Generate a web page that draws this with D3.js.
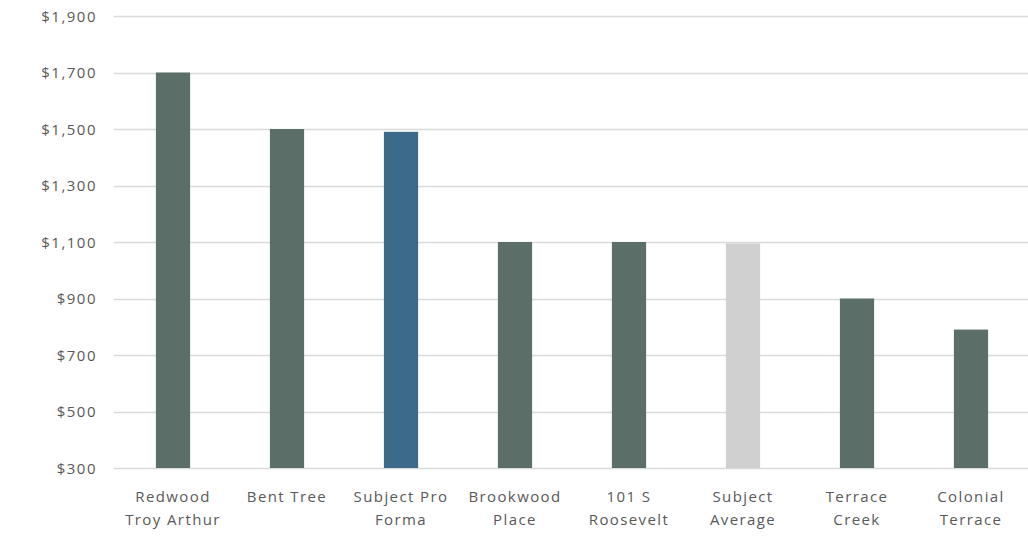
<!DOCTYPE html>
<html>
<head>
<meta charset="utf-8">
<script src="https://cdn.jsdelivr.net/npm/d3@7"></script>
<style>
  html, body { margin: 0; padding: 0; background: #fff; }
  svg text { font-family: "Open Sans", "Liberation Sans", sans-serif; fill: #595959; }
</style>
</head>
<body>
<svg id="chart" width="1028" height="538"></svg>
<script>
// Monthly rent by property
const properties = [
  ["Redwood", "Troy Arthur"],
  ["Bent Tree"],
  ["Subject Pro", "Forma"],
  ["Brookwood", "Place"],
  ["101 S", "Roosevelt"],
  ["Subject", "Average"],
  ["Terrace", "Creek"],
  ["Colonial", "Terrace"]
];
const rents = [1700, 1500, 1490, 1100, 1100, 1095, 900, 790];
const barKinds = ["comp", "comp", "proforma", "comp", "comp", "average", "comp", "comp"];
const yTicks = [300, 500, 700, 900, 1100, 1300, 1500, 1700, 1900];

const colors = { comp: "#5b6e68", proforma: "#3b6a8a", average: "#d0d0d0" };

const svg = d3.select("#chart");
const margin = { top: 16, right: 0, bottom: 70, left: 116 };
const width = 1028, height = 538;

const x = d3.scaleBand()
  .domain(properties.map((d, i) => i))
  .range([margin.left, margin.left + 912])
  .paddingInner(0.7)
  .paddingOuter(0.35);

const y = d3.scaleLinear()
  .domain([300, 1900])
  .range([468, margin.top]);

// horizontal gridlines
svg.append("g")
  .selectAll("line")
  .data(yTicks)
  .join("line")
  .attr("x1", 114)
  .attr("x2", width)
  .attr("y1", d => Math.round(y(d)) + 0.5)
  .attr("y2", d => Math.round(y(d)) + 0.5)
  .attr("stroke", "#dadada")
  .attr("stroke-width", 1.5);

// y axis labels
const yAxis = d3.axisLeft(y)
  .tickValues(yTicks)
  .tickSize(0)
  .tickPadding(0)
  .tickFormat(d => "$" + d3.format(",")(d));

svg.append("g")
  .attr("transform", "translate(97,0)")
  .call(yAxis)
  .call(g => g.select(".domain").remove())
  .call(g => g.selectAll("text")
    .attr("font-size", 15)
    .attr("letter-spacing", 1.5)
    .attr("dy", "0.35em")
    .style("font-family", "'Open Sans', sans-serif")
    .attr("fill", "#595959"));

// bars
svg.append("g")
  .selectAll("rect")
  .data(rents)
  .join("rect")
  .attr("x", (d, i) => x(i))
  .attr("width", x.bandwidth())
  .attr("y", d => y(d))
  .attr("height", d => y(300) - y(d))
  .attr("fill", (d, i) => colors[barKinds[i]]);

// category labels
const labels = svg.append("g")
  .selectAll("text")
  .data(properties)
  .join("text")
  .attr("text-anchor", "middle")
  .attr("font-size", 15)
  .attr("letter-spacing", 1.4)
  .attr("x", (d, i) => x(i) + x.bandwidth() / 2)
  .attr("y", 502);

labels.selectAll("tspan")
  .data(d => d)
  .join("tspan")
  .attr("x", function () { return d3.select(this.parentNode).attr("x"); })
  .attr("dy", (d, i) => i === 0 ? 0 : 23)
  .text(d => d);
</script>
</body>
</html>
